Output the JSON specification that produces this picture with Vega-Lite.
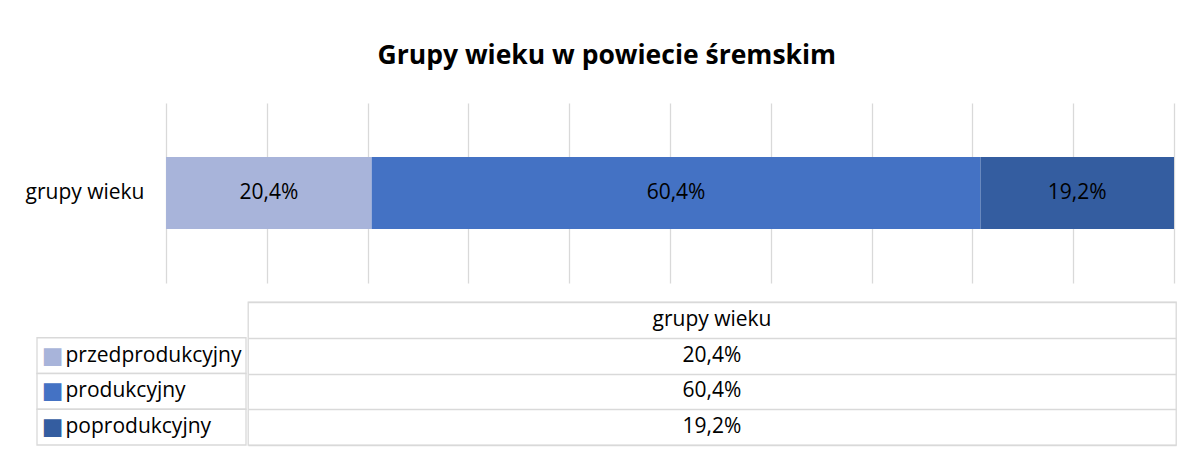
{
  "$schema": "https://vega.github.io/schema/vega-lite/v6.json",
  "background": "white",
  "padding": {"left": 25, "top": 42, "right": 17, "bottom": 20},
  "config": {
    "view": {"stroke": null},
    "font": "Open Sans",
    "locale": {"number": {"decimal": ",", "thousands": " ", "grouping": [3], "currency": ["", " zł"]}}
  },
  "datasets": {
    "udzialy": [
      {"grupa": "grupy wieku", "kategoria": "przedprodukcyjny", "udzial": 0.204},
      {"grupa": "grupy wieku", "kategoria": "produkcyjny", "udzial": 0.604},
      {"grupa": "grupy wieku", "kategoria": "poprodukcyjny", "udzial": 0.192}
    ]
  },
  "title": {
    "text": "Grupy wieku w powiecie śremskim",
    "fontSize": 26.5,
    "fontWeight": "bold",
    "color": "#000000",
    "anchor": "middle",
    "dx": 6,
    "offset": 34
  },
  "spacing": 18,
  "vconcat": [
    {
      "width": 1137,
      "height": 180,
      "data": {"name": "udzialy"},
      "transform": [
        {"stack": "udzial", "groupby": ["grupa"], "sort": [{"field": "kategoria", "order": "descending"}], "as": ["poczatek", "koniec"]}
      ],
      "encoding": {
        "y": {
          "field": "grupa",
          "type": "nominal",
          "scale": {"paddingInner": 0, "paddingOuter": 0.75},
          "axis": {"title": null, "domain": false, "ticks": false, "labelFontSize": 21, "labelColor": "#000000", "labelPadding": 0, "offset": -107}
        }
      },
      "layer": [
        {
          "mark": {"type": "bar"},
          "encoding": {
            "x": {
              "field": "poczatek",
              "type": "quantitative",
              "scale": {"domain": [-0.128, 1], "nice": false, "zero": false},
              "axis": {"title": null, "labels": false, "ticks": false, "domain": false, "grid": true, "gridColor": "#d9d9d9", "gridWidth": 1.3, "values": [0, 0.1, 0.2, 0.3, 0.4, 0.5, 0.6, 0.7, 0.8, 0.9, 1]}
            },
            "x2": {"field": "koniec"},
            "color": {
              "field": "kategoria",
              "type": "nominal",
              "scale": {"domain": ["przedprodukcyjny", "produkcyjny", "poprodukcyjny"], "range": ["#a8b4da", "#4472c4", "#345da0"]},
              "legend": null
            }
          }
        },
        {
          "transform": [
            {"fold": ["poczatek", "koniec"], "as": ["krawedz", "pozycja"]},
            {"aggregate": [{"op": "mean", "field": "pozycja", "as": "srodek"}, {"op": "max", "field": "udzial", "as": "udzial"}], "groupby": ["grupa", "kategoria"]}
          ],
          "mark": {"type": "text", "fontSize": 21, "color": "#000000"},
          "encoding": {
            "x": {"field": "srodek", "type": "quantitative"},
            "text": {"field": "udzial", "type": "quantitative", "format": ".1%"}
          }
        }
      ]
    },
    {
      "spacing": 0,
      "hconcat": [
        {
          "width": 209,
          "height": 143,
          "data": {"name": "udzialy"},
          "encoding": {
            "y": {
              "field": "kategoria",
              "type": "nominal",
              "scale": {"domain": ["grupy wieku", "przedprodukcyjny", "produkcyjny", "poprodukcyjny"], "paddingInner": 0, "paddingOuter": 0},
              "axis": null
            }
          },
          "layer": [
            {
              "mark": {"type": "rect", "fill": "white", "stroke": "#d9d9d9", "strokeWidth": 1.3},
              "encoding": {}
            },
            {
              "mark": {"type": "text", "font": "DejaVu Sans", "fontSize": 23, "align": "center", "dx": -89},
              "encoding": {
                "text": {"value": "■"},
                "color": {"field": "kategoria", "type": "nominal", "scale": {"domain": ["przedprodukcyjny", "produkcyjny", "poprodukcyjny"], "range": ["#a8b4da", "#4472c4", "#345da0"]}, "legend": null}
              }
            },
            {
              "mark": {"type": "text", "fontSize": 21, "align": "left", "dx": -76, "color": "#000000"},
              "encoding": {"text": {"field": "kategoria", "type": "nominal"}}
            }
          ]
        },
        {
          "width": 928,
          "height": 143,
          "view": {"stroke": "#d9d9d9", "strokeWidth": 1.3},
          "data": {"name": "udzialy"},
          "encoding": {
            "y": {
              "field": "kategoria",
              "type": "nominal",
              "scale": {"domain": ["grupy wieku", "przedprodukcyjny", "produkcyjny", "poprodukcyjny"], "paddingInner": 0, "paddingOuter": 0},
              "axis": {"title": null, "labels": false, "ticks": false, "domain": false, "grid": true, "tickBand": "extent", "gridColor": "#d9d9d9", "gridWidth": 1.3}
            }
          },
          "layer": [
            {
              "mark": {"type": "text", "fontSize": 21, "color": "#000000"},
              "encoding": {"text": {"field": "udzial", "type": "quantitative", "format": ".1%"}}
            },
            {
              "transform": [{"aggregate": [{"op": "count", "as": "n"}], "groupby": ["grupa"]}],
              "mark": {"type": "text", "fontSize": 21, "color": "#000000"},
              "encoding": {
                "y": {"field": "grupa", "type": "nominal"},
                "text": {"field": "grupa", "type": "nominal"}
              }
            }
          ]
        }
      ]
    }
  ]
}
